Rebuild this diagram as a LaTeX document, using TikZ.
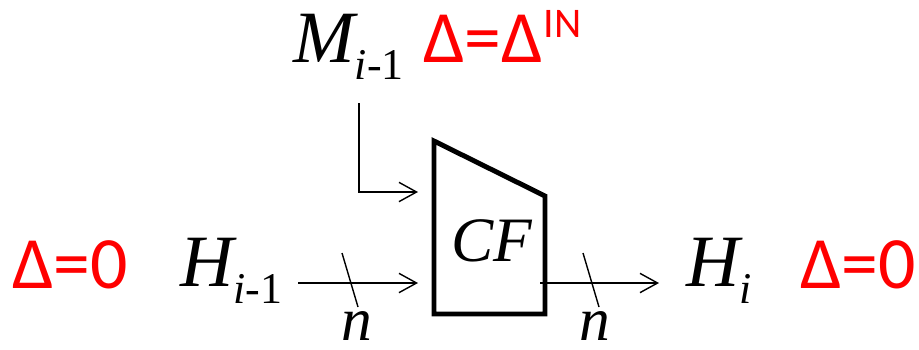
\documentclass[tikz,border=0pt]{standalone}
\usepackage{fontspec}
\setmainfont{Liberation Serif}
\newfontfamily\redfont{Carlito}
\usetikzlibrary{arrows.meta}
\tikzset{
  lbl/.style={inner sep=0pt, anchor=base west, font=\fontsize{42}{44}\selectfont\itshape},
  delta/.style={inner sep=0pt, anchor=base west, text=red, font=\fontsize{42}{44}\selectfont\redfont},
  blk/.style={draw=black, line width=2.8pt, line join=miter},
  sig/.style={draw=black, line width=0.8pt, -{Straight Barb[length=10pt, width=11pt, line width=0.8pt]}},
  bus/.style={draw=black, line width=0.8pt},
  wd/.style={inner sep=0pt, anchor=base, font=\fontsize{35}{36}\selectfont\itshape},
}
\newcommand{\sbs}[1]{\raisebox{-10pt}{\fontsize{25}{25}\selectfont #1}}
\newcommand{\sps}[1]{\raisebox{14pt}{\fontsize{24}{24}\selectfont #1}}

\begin{document}
\begin{tikzpicture}[x=0.02cm, y=-0.02cm]
  \useasboundingbox (0,0) rectangle (919,349);
  % CF block
  \coordinate (cf-tl) at (434,141);
  \coordinate (cf-tr) at (545,196);
  \coordinate (cf-br) at (545,314);
  \coordinate (cf-bl) at (434,314);
  \draw[blk] (cf-tl) -- (cf-tr) -- (cf-br) -- (cf-bl) -- cycle;
  \node[lbl, font=\fontsize{36}{38}\selectfont\itshape] (cf) at (451,261) {CF};
  % ports
  \coordinate (cf-m) at (418,192);
  \coordinate (cf-h) at (418,283);
  \coordinate (cf-o) at (540,283);
  % labels
  \node[lbl] (mprev) at (293,62) {M\sbs{i\upshape-1}};
  \node[delta] (dm) at (423,62) {Δ=Δ\sps{IN}};
  \node[lbl] (hprev) at (180,286) {H\sbs{i\upshape-1}};
  \node[delta] (dl) at (12,288) {Δ=0};
  \node[lbl] (hnext) at (686,286) {H\sbs{i}};
  \node[delta] (dr) at (800,288) {Δ=0};
  % signals
  \coordinate (m-src) at (359,103);
  \coordinate (h-src) at (298,283);
  \coordinate (h-dst) at (659,283);
  \draw[sig] (m-src) |- (cf-m);
  \draw[sig] (h-src) -- (cf-h);
  \draw[sig] (cf-o) -- (h-dst);
  % bus width marks
  \coordinate (s1) at (350,280);
  \coordinate (s2) at (591,280);
  \foreach \s in {s1,s2}
    \draw[bus] ([shift={(-8,-27)}]\s) -- ([shift={(8,27)}]\s);
  \node[wd] (n1) at (357,340) {n};
  \node[wd] (n2) at (595,340) {n};
\end{tikzpicture}
\end{document}
